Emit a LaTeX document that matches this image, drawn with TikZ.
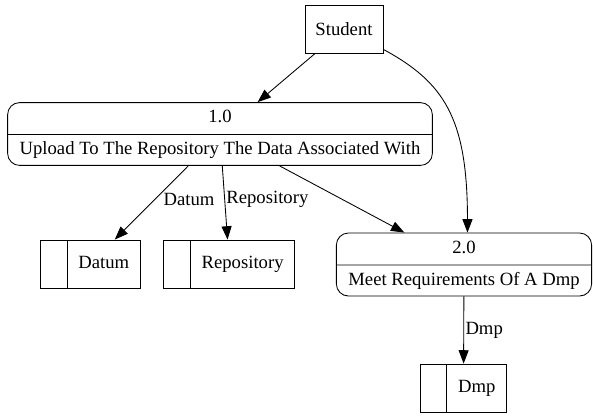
\documentclass[tikz,border=0pt]{standalone}
\usepackage{fontspec}
\setmainfont{Liberation Serif}
\usetikzlibrary{arrows.meta,shapes.multipart}

\tikzset{
  entity/.style={draw, minimum width=58.5pt, minimum height=36pt},
  process/.style={draw, rectangle split, rectangle split parts=2, rounded corners=9pt,
    inner xsep=9pt, inner ysep=4.9pt, text height=10pt, text depth=3.5pt},
  store/.style={draw, minimum height=36pt, inner xsep=8.5pt, text height=10pt, text depth=3.5pt,
    execute at begin node={\hspace*{20pt}},
    path picture={\draw ([xshift=20pt]path picture bounding box.north west)
      -- ([xshift=20pt]path picture bounding box.south west);}},
  flow/.style={-{Triangle[length=10pt,width=7.5pt]}},
  flowlabel/.style={inner sep=1pt, anchor=west}
}

\begin{document}
\begin{tikzpicture}[x=0.75pt,y=-0.75pt,line width=0.65pt,font=\fontsize{14pt}{16pt}\selectfont]
			\useasboundingbox (0,0) rectangle (593,419);
			\node[entity] (student) at (344,29) {Student};
			\node[process] (p1) at (220,134) {1.0\nodepart{two}Upload To The Repository The Data Associated With};
			\node[process] (p2) at (464,264.5) {2.0\nodepart{two}Meet Requirements Of A Dmp};
			\node[store] (datum) at (90.4,264) {Datum};
			\node[store] (repo) at (229.3,264) {Repository};
			\node[store] (dmp) at (463.5,388) {Dmp};
			\draw[flow] (student)--(p1);
			\draw[flow] ([yshift=3pt]student.south east) .. controls +(61,33) and +(0,-114) .. ([xshift=2.6pt]p2.north);
			\draw[flow] (p1)--node[flowlabel,pos=0.45,xshift=5pt]{Datum}(datum);
			\draw[flow] (p1)--node[flowlabel,pos=0.45]{Repository}(repo);
			\draw[flow] (p1)--(p2);
			\draw[flow] (p2)--node[flowlabel,pos=0.51]{Dmp}(dmp);
		\end{tikzpicture}
\end{document}
